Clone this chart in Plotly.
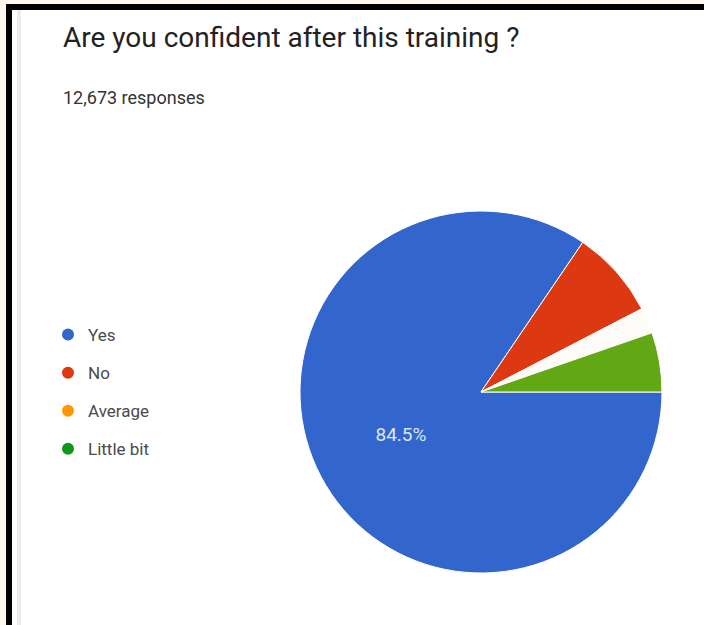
import plotly.graph_objects as go

W, H = 704, 625

labels = ["Yes", "No", "Average", "Little bit"]
counts = [10709, 1001, 291, 672]
slice_colors = ["#3366cc", "#dc3912", "#fcfbf7", "#62a814"]
legend_colors = ["#3366cc", "#dc3912", "#ff9900", "#109618"]
title_text = "Are you confident after this training ?"
subtitle_text = "12,673 responses"


def px_x(x):
    return x / W


def px_y(y):
    return 1 - y / H


cx, cy, r = 481, 392, 181

fig = go.Figure()
fig.add_trace(go.Pie(
    labels=labels,
    values=counts,
    sort=False,
    direction="clockwise",
    rotation=90,
    marker=dict(colors=slice_colors, line=dict(color="white", width=1)),
    texttemplate=["%{percent:.1%}", "", "", ""],
    textposition="inside",
    insidetextorientation="horizontal",
    insidetextfont=dict(color="#dde5f6", size=19, family="Roboto"),
    showlegend=False,
    hoverinfo="label+percent",
    domain=dict(x=[px_x(cx - r), px_x(cx + r)], y=[px_y(cy + r), px_y(cy - r)]),
))

for i, (lab, col) in enumerate(zip(labels, legend_colors)):
    fig.add_trace(go.Scatter(
        x=[None], y=[None], mode="markers", name=lab,
        legendgroup=f"g{i}",
        marker=dict(symbol="circle", size=18, color=col),
    ))

fig.update_layout(
    width=W, height=H,
    margin=dict(l=0, r=0, t=0, b=0),
    paper_bgcolor="#fff6ec",
    plot_bgcolor="rgba(0,0,0,0)",
    xaxis=dict(visible=False, domain=[0, 0.01]),
    yaxis=dict(visible=False, domain=[0, 0.01]),
    showlegend=True,
    legend=dict(
        x=px_x(48), y=px_y(317), xanchor="left", yanchor="top",
        font=dict(family="Roboto", size=17, color="#4a4a4a"),
        traceorder="grouped", tracegroupgap=13,
        bgcolor="rgba(0,0,0,0)", itemsizing="constant",
    ),
    shapes=[
        dict(type="rect", xref="paper", yref="paper", x0=px_x(12), x1=1, y0=0, y1=px_y(10),
             fillcolor="white", line=dict(width=0), layer="below"),
        dict(type="rect", xref="paper", yref="paper", x0=px_x(6), x1=1, y0=px_y(10), y1=px_y(4),
             fillcolor="black", line=dict(width=0), layer="below"),
        dict(type="rect", xref="paper", yref="paper", x0=px_x(6), x1=px_x(12), y0=0, y1=px_y(4),
             fillcolor="black", line=dict(width=0), layer="below"),
        dict(type="rect", xref="paper", yref="paper", x0=px_x(17), x1=px_x(21), y0=0, y1=px_y(10),
             fillcolor="#ececec", line=dict(width=0), layer="below"),
    ],
    annotations=[
        dict(text=title_text, xref="paper", yref="paper", x=px_x(61), y=px_y(38),
             xanchor="left", yanchor="middle", showarrow=False,
             font=dict(family="Roboto", size=28, color="#222222")),
        dict(text=subtitle_text, xref="paper", yref="paper", x=px_x(61), y=px_y(97),
             xanchor="left", yanchor="middle", showarrow=False,
             font=dict(family="Roboto", size=18, color="#333333")),
    ],
)

fig.write_html(
    "out.html",
    config={"displayModeBar": False},
    post_script="document.body.style.margin='0';document.body.style.overflow='hidden';",
)
